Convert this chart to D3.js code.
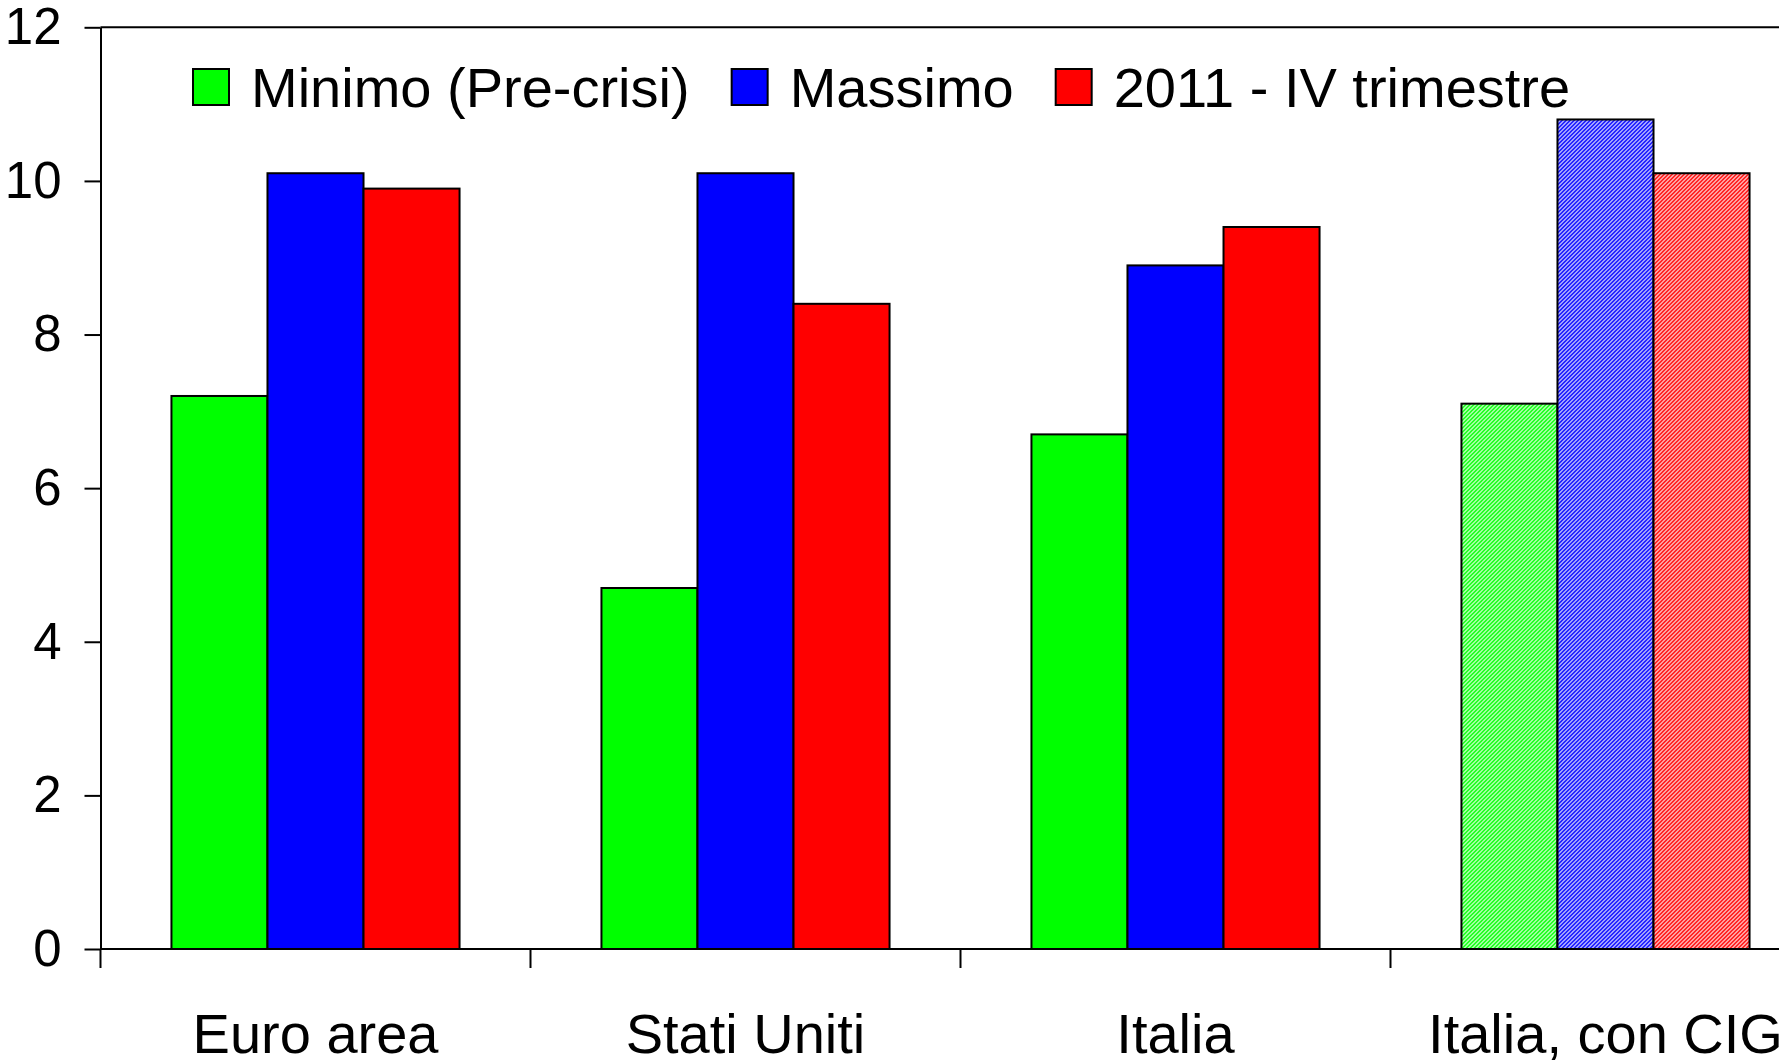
<!DOCTYPE html>
<html>
<head>
<meta charset="utf-8">
<script src="https://cdn.jsdelivr.net/npm/d3@7"></script>
<style>
  html, body { margin: 0; padding: 0; background: #fff; overflow: hidden; }
  svg { display: block; }
  text { font-family: "Liberation Sans", Arial, Helvetica, sans-serif; fill: #000; }
</style>
</head>
<body>
<svg id="chart" width="1779" height="1060"></svg>
<script>
// Unemployment rate: pre-crisis minimum, peak, and 2011 Q4
const categories = ["Euro area", "Stati Uniti", "Italia", "Italia, con CIG"];
const series = ["Minimo (Pre-crisi)", "Massimo", "2011 - IV trimestre"];
const minimo = [7.2, 4.7, 6.7, 7.1];
const massimo = [10.1, 10.1, 8.9, 10.8];
const trimestre = [9.9, 8.4, 9.4, 10.1];
const hatched = [false, false, false, true];
const yTicks = [0, 2, 4, 6, 8, 10, 12];
const colors = ["#00ff00", "#0000ff", "#ff0000"];

const values = [minimo, massimo, trimestre];

const svg = d3.select("#chart");
const W = 1779, H = 1060;
svg.append("rect").attr("width", W).attr("height", H).attr("fill", "#fff");

const plotLeft = 100.5, plotTop = 27.3, plotBottom = 949, band = 430;

const y = d3.scaleLinear().domain([0, 12]).range([plotBottom, plotTop]);
const x0 = d3.scaleBand().domain(categories).range([plotLeft, plotLeft + band * categories.length]).padding(0);
const x1 = d3.scaleBand().domain(series).range([band * 0.165, band * (1 - 0.165)]).padding(0);

// Diagonal hatch patterns for the CIG-adjusted bars
const defs = svg.append("defs");
colors.forEach((c, i) => {
  const p = defs.append("pattern")
    .attr("id", "hatch" + i)
    .attr("patternUnits", "userSpaceOnUse")
    .attr("width", 4).attr("height", 4);
  p.append("rect").attr("width", 4).attr("height", 4).attr("fill", "#fff");
  p.append("path")
    .attr("d", "M-1,1 l2,-2 M0,4 l4,-4 M3,5 l2,-2")
    .attr("stroke", c).attr("stroke-width", 1.7);
});

// Bars
const groups = svg.append("g").selectAll("g")
  .data(categories)
  .join("g")
  .attr("transform", d => `translate(${x0(d)},0)`);

groups.selectAll("rect")
  .data((c, ci) => series.map((s, si) => ({ s, si, v: values[si][ci], h: hatched[ci] })))
  .join("rect")
  .attr("x", d => x1(d.s))
  .attr("width", x1.bandwidth())
  .attr("y", d => y(d.v))
  .attr("height", d => y(0) - y(d.v))
  .attr("fill", d => d.h ? `url(#hatch${d.si})` : colors[d.si])
  .attr("stroke", "#000")
  .attr("stroke-width", 2);

// Y axis
const yAxis = svg.append("g")
  .attr("transform", `translate(${plotLeft},0)`)
  .call(d3.axisLeft(y).tickValues(yTicks).tickFormat(d3.format("d"))
    .tickSize(16).tickSizeOuter(0).tickPadding(23));
yAxis.select(".domain").attr("stroke", "#000").attr("stroke-width", 2);
yAxis.selectAll(".tick line").attr("stroke", "#000").attr("stroke-width", 2);
yAxis.selectAll(".tick text")
  .attr("font-size", 51)
  .attr("font-family", "'Liberation Sans', Arial, sans-serif")
  .attr("fill", "#000");

// Frame top and baseline
svg.append("line")
  .attr("x1", plotLeft).attr("x2", W + 60)
  .attr("y1", y(12)).attr("y2", y(12))
  .attr("stroke", "#000").attr("stroke-width", 2);
svg.append("line")
  .attr("x1", plotLeft).attr("x2", W + 60)
  .attr("y1", y(0)).attr("y2", y(0))
  .attr("stroke", "#000").attr("stroke-width", 2);

// Category separators below the baseline
svg.append("g").selectAll("line")
  .data(categories)
  .join("line")
  .attr("x1", d => x0(d)).attr("x2", d => x0(d))
  .attr("y1", y(0)).attr("y2", y(0) + 19)
  .attr("stroke", "#000").attr("stroke-width", 2);

// Category labels
svg.append("g").selectAll("text")
  .data(categories)
  .join("text")
  .attr("x", d => x0(d) + x0.bandwidth() / 2)
  .attr("y", 1052.7)
  .attr("text-anchor", "middle")
  .attr("font-size", 56)
  .text(d => d);

// Legend
const legend = svg.append("g");
let lx = 193;
series.forEach((s, i) => {
  legend.append("rect")
    .attr("x", lx).attr("y", 69)
    .attr("width", 36).attr("height", 36)
    .attr("fill", colors[i])
    .attr("stroke", "#000").attr("stroke-width", 2);
  const t = legend.append("text")
    .attr("x", lx + 58).attr("y", 106.5)
    .attr("font-size", 56)
    .text(s);
  lx = lx + 58 + t.node().getComputedTextLength() + 42;
});
</script>
</body>
</html>
